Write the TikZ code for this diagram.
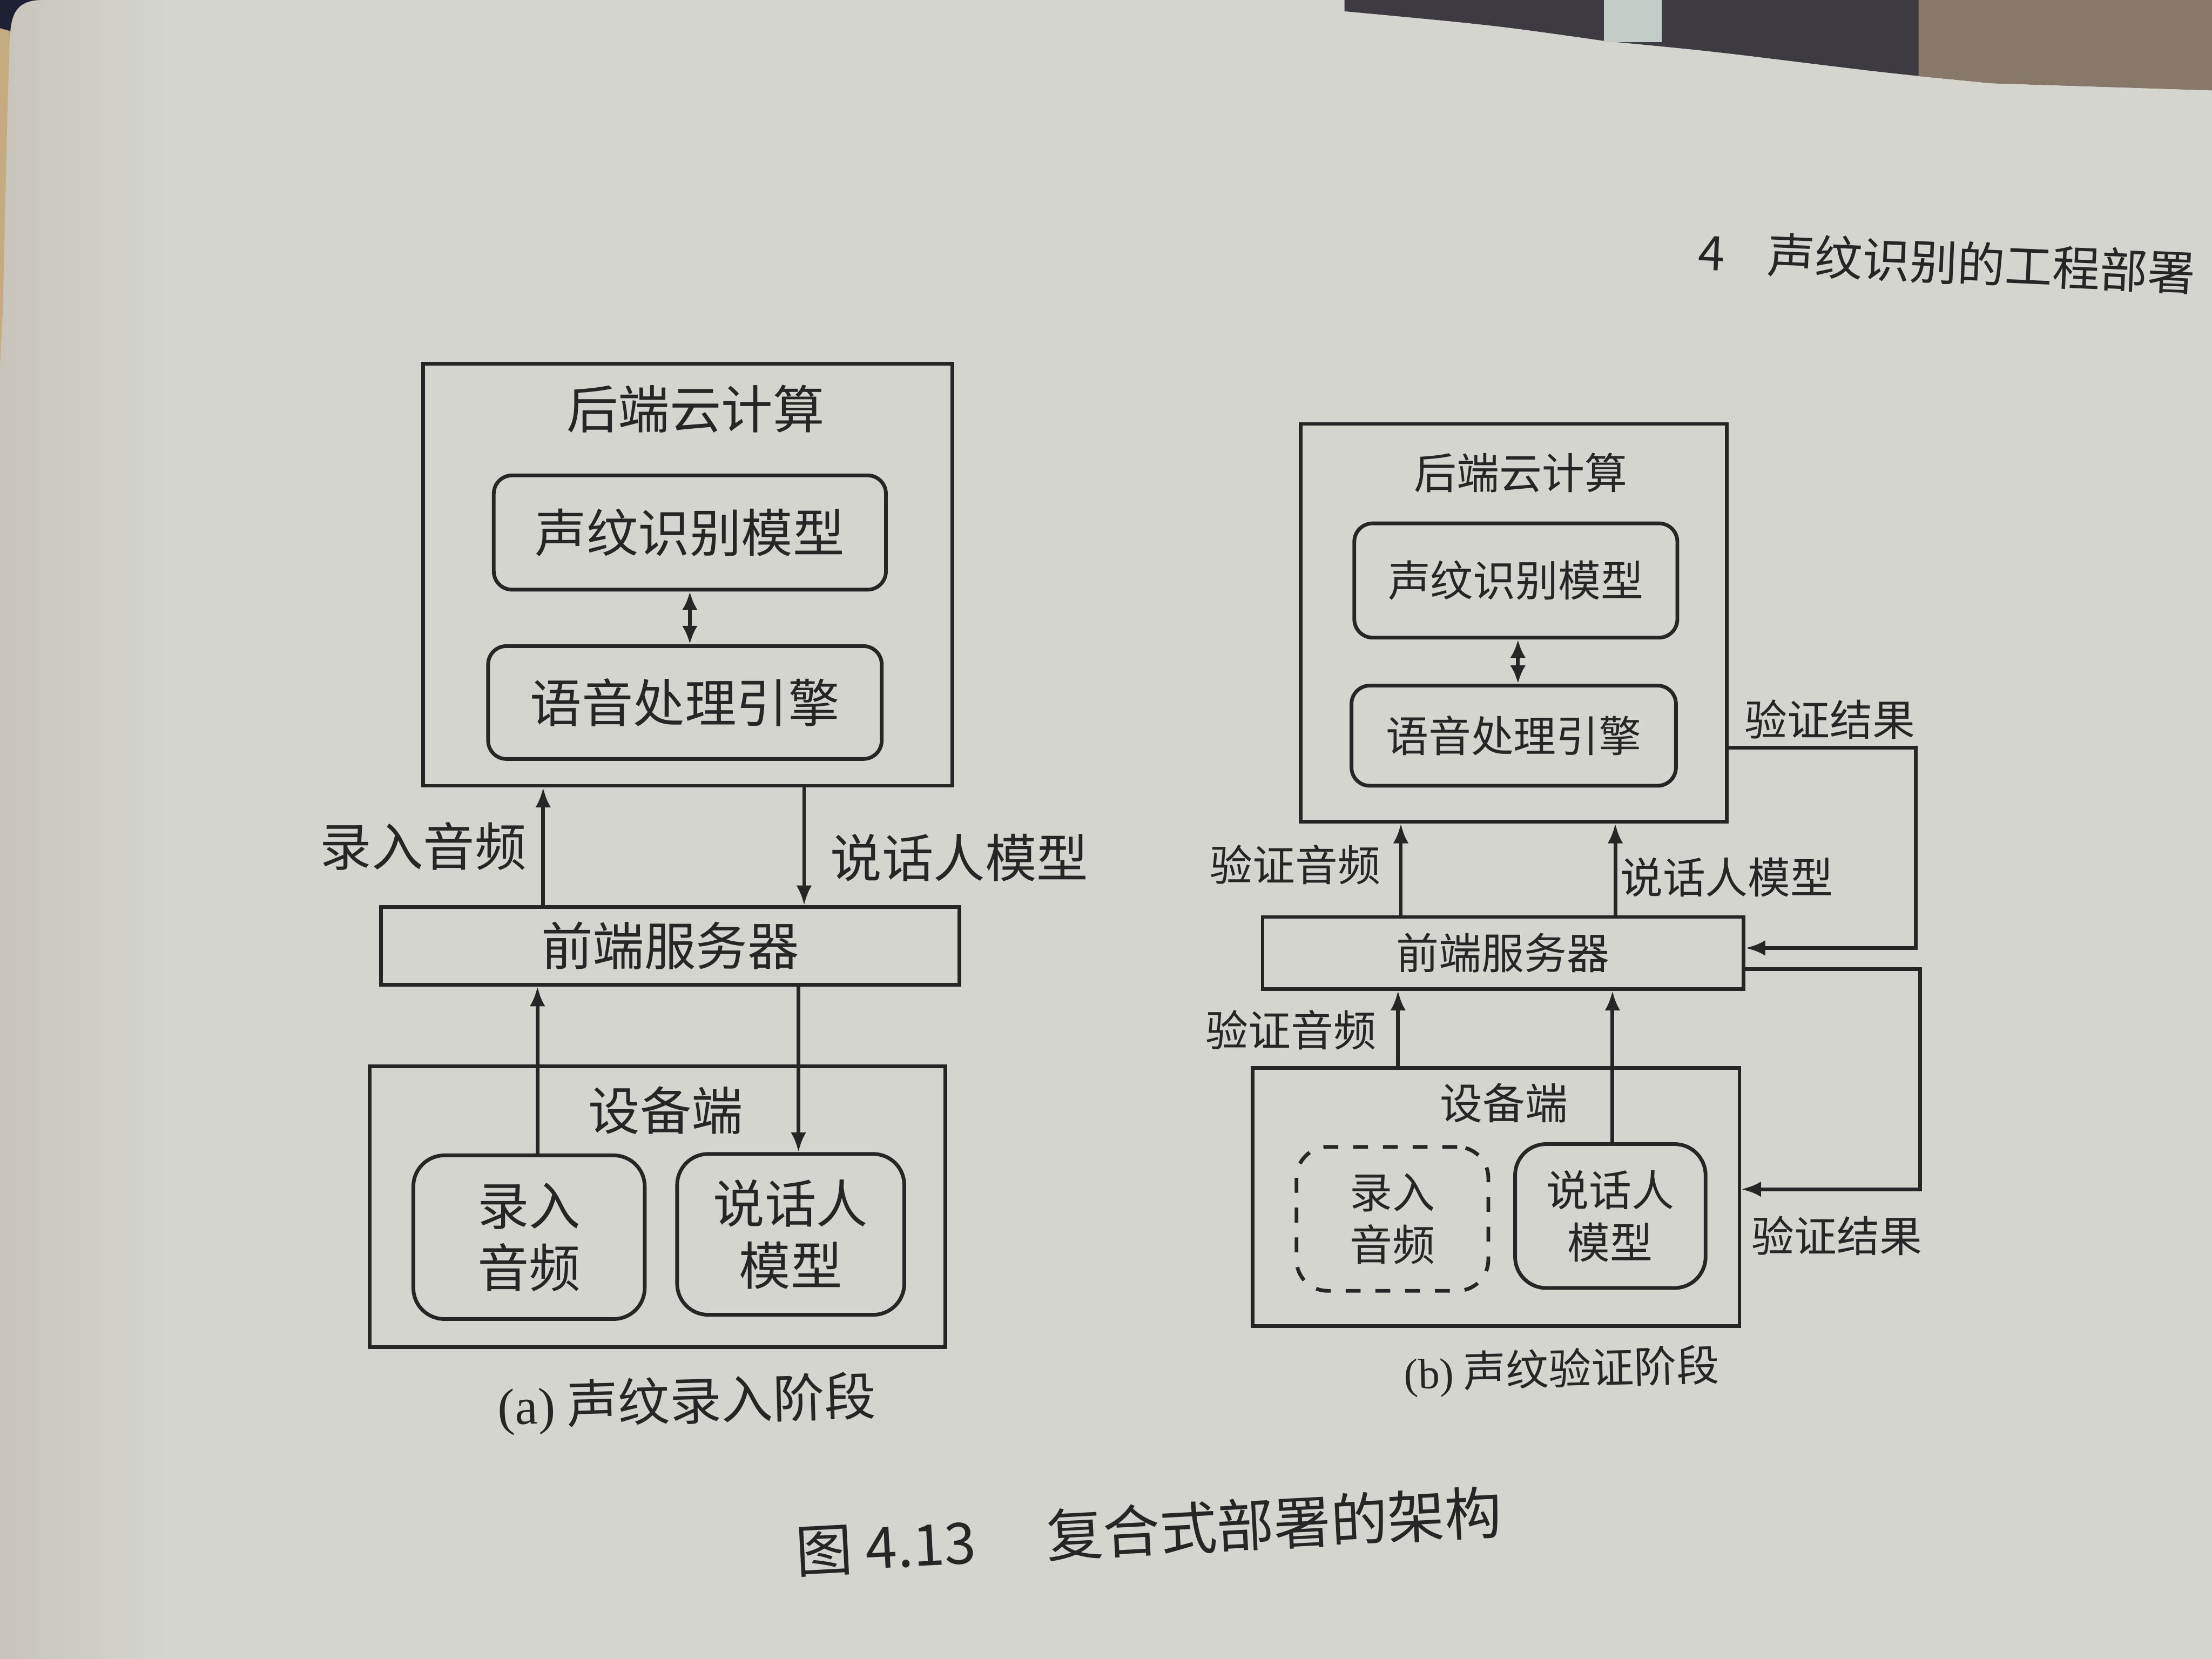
\documentclass[tikz,border=0pt]{standalone}
\usepackage{fontspec}
\setmainfont{Noto Sans CJK SC}
\newfontfamily\serifL{Liberation Serif}
\usetikzlibrary{arrows.meta}
\definecolor{paper}{RGB}{212,213,207}
\definecolor{paperL}{RGB}{200,196,186}
\definecolor{ink}{RGB}{38,38,38}
\definecolor{navy}{RGB}{30,32,52}
\definecolor{darkbg}{RGB}{62,58,66}
\definecolor{beigebg}{RGB}{135,120,104}
\definecolor{stripbg}{RGB}{196,204,200}
\definecolor{yellowedge}{RGB}{196,172,128}
\tikzset{
  box/.style={draw=ink, line width=0.75pt, inner sep=0pt, text=ink},
  rbox/.style={box, rounded corners=1.3mm},
  rboxb/.style={box, rounded corners=2.2mm},
  arr/.style={draw=ink, line width=0.75pt, -{Latex[length=1.4mm,width=1.1mm]}},
  darr/.style={draw=ink, line width=0.75pt, {Latex[length=1.3mm,width=1.1mm]}-{Latex[length=1.3mm,width=1.1mm]}},
  labA/.style={font=\fontsize{10.4}{12.6}\selectfont, text=ink, align=center},
  labB/.style={font=\fontsize{8.6}{10.6}\selectfont, text=ink, align=center},
}
\begin{document}
\begin{tikzpicture}
\useasboundingbox (0,0) rectangle (15.68,-11.76);
% ---------- background (photo of a book page) ----------
\fill[paper] (0,0) rectangle (15.68,-11.76);
\shade[left color=paperL, right color=paper] (0,0) rectangle (1.2,-11.76);
\fill[darkbg] (9.53,0) -- (9.53,-0.08) .. controls (10.6,-0.18) .. (11.37,-0.29)
  .. controls (12.1,-0.36) .. (12.67,-0.43) .. controls (13.4,-0.52) .. (14.12,-0.59)
  -- (15.68,-0.64) -- (15.68,0) -- cycle;
\fill[beigebg] (13.6,0) -- (13.6,-0.54) -- (14.12,-0.59) -- (15.68,-0.64) -- (15.68,0) -- cycle;
\fill[stripbg] (11.37,0) rectangle (11.78,-0.30);
\fill[navy] (0,0) -- (0.30,0) .. controls (0.10,0.0) and (0.08,-0.12) .. (0.07,-0.26) -- (0,-0.26) -- cycle;
\fill[yellowedge] (0,-0.20) -- (0.07,-0.22) -- (0.05,-0.9) -- (0.02,-2.2) -- (0,-2.6) -- cycle;

% ================= (a) =================
\node[box, minimum width=3.75cm, minimum height=2.99cm] (beA) at (4.875,-4.075) {};
\node[labA] (beAt) at (4.93,-2.90) {后端云计算};
\node[rbox, labA, minimum width=2.78cm, minimum height=0.81cm] (smA) at (4.89,-3.775) {声纹识别模型};
\node[rbox, labA, minimum width=2.79cm, minimum height=0.80cm] (yyA) at (4.855,-4.98) {语音处理引擎};
\node[box, labA, minimum width=4.10cm, minimum height=0.55cm] (feA) at (4.75,-6.705) {前端服务器};
\node[box, minimum width=4.08cm, minimum height=1.99cm] (devA) at (4.66,-8.555) {};
\node[labA] (devAt) at (4.72,-7.87) {设备端};
\node[rboxb, labA, minimum width=1.64cm, minimum height=1.16cm] (luA) at (3.75,-8.77) {录入\\音频};
\node[rboxb, labA, minimum width=1.61cm, minimum height=1.14cm] (shA) at (5.605,-8.75) {说话人\\模型};
\node[labA] (lA1) at (3.00,-6.00) {录入音频};
\node[labA] (lA2) at (6.80,-6.08) {说话人模型};
\node[labA, rotate=1.5] (capA) at (4.87,-9.95) {{\serifL (a)} 声纹录入阶段};

\coordinate (xa0) at (4.89,0);
\coordinate (xa1) at (3.85,0);
\coordinate (xa2) at (5.70,0);
\coordinate (xa3) at (3.81,0);
\coordinate (xa4) at (5.66,0);
\draw[darr] (smA.south -| xa0) -- (yyA.north -| xa0);
\draw[arr] (feA.north -| xa1) -- (beA.south -| xa1);
\draw[arr] (beA.south -| xa2) -- (feA.north -| xa2);
\draw[arr] (luA.north -| xa3) -- (feA.south -| xa3);
\draw[arr] (feA.south -| xa4) -- (shA.north -| xa4);

% ================= (b) =================
\node[box, minimum width=3.02cm, minimum height=2.82cm] (beB) at (10.73,-4.415) {};
\node[labB] (beBt) at (10.78,-3.35) {后端云计算};
\node[rbox, labB, minimum width=2.29cm, minimum height=0.81cm] (smB) at (10.745,-4.115) {声纹识别模型};
\node[rbox, labB, minimum width=2.30cm, minimum height=0.71cm] (yyB) at (10.73,-5.215) {语音处理引擎};
\node[box, labB, minimum width=3.41cm, minimum height=0.51cm] (feB) at (10.655,-6.755) {前端服务器};
\node[box, minimum width=3.45cm, minimum height=1.83cm] (devB) at (10.605,-8.485) {};
\node[labB] (devBt) at (10.66,-7.82) {设备端};
\node[rboxb, labB, dashed, minimum width=1.36cm, minimum height=1.02cm] (luB) at (9.87,-8.64) {录入\\音频};
\node[rboxb, labB, minimum width=1.35cm, minimum height=1.02cm] (shB) at (11.415,-8.62) {说话人\\模型};
\node[labB] (lB1) at (9.18,-6.13) {验证音频};
\node[labB] (lB2) at (12.24,-6.22) {说话人模型};
\node[labB] (lB3) at (12.97,-5.10) {验证结果};
\node[labB] (lB4) at (9.15,-7.30) {验证音频};
\node[labB] (lB5) at (13.02,-8.76) {验证结果};
\node[labB, rotate=1.5] (capB) at (11.07,-9.72) {{\serifL (b)} 声纹验证阶段};

\coordinate (xb0) at (10.76,0);
\coordinate (xb1) at (9.93,0);
\coordinate (xb2) at (11.45,0);
\coordinate (xb3) at (9.91,0);
\coordinate (xb4) at (11.43,0);
\coordinate (xb5) at (13.58,0);
\coordinate (xb6) at (13.61,0);
\coordinate (yb1) at (0,-5.30);
\coordinate (yb2) at (0,-6.72);
\coordinate (yb3) at (0,-6.87);
\coordinate (yb4) at (0,-8.43);
\draw[darr] (smB.south -| xb0) -- (yyB.north -| xb0);
\draw[arr] (feB.north -| xb1) -- (beB.south -| xb1);
\draw[arr] (feB.north -| xb2) -- (beB.south -| xb2);
\draw[arr] (devB.north -| xb3) -- (feB.south -| xb3);
\draw[arr] (shB.north -| xb4) -- (feB.south -| xb4);
\draw[arr] (beB.east |- yb1) -- (xb5 |- yb1) -- (xb5 |- yb2) -- (feB.east |- yb2);
\draw[arr] (feB.east |- yb3) -- (xb6 |- yb3) -- (xb6 |- yb4) -- (devB.east |- yb4);

% ================= page texts =================
\node[text=ink, font=\fontsize{9.6}{11}\selectfont, rotate=-2.5] (hdr) at (13.80,-1.86) {4\hspace{0.9em}声纹识别的工程部署};
\node[text=ink, font=\fontsize{11.5}{13}\selectfont, rotate=3] (figno) at (6.28,-10.97) {图 4.13};
\node[text=ink, font=\fontsize{11.5}{13}\selectfont, rotate=3] (figcap) at (9.03,-10.80) {复合式部署的架构};
\end{tikzpicture}
\end{document}
